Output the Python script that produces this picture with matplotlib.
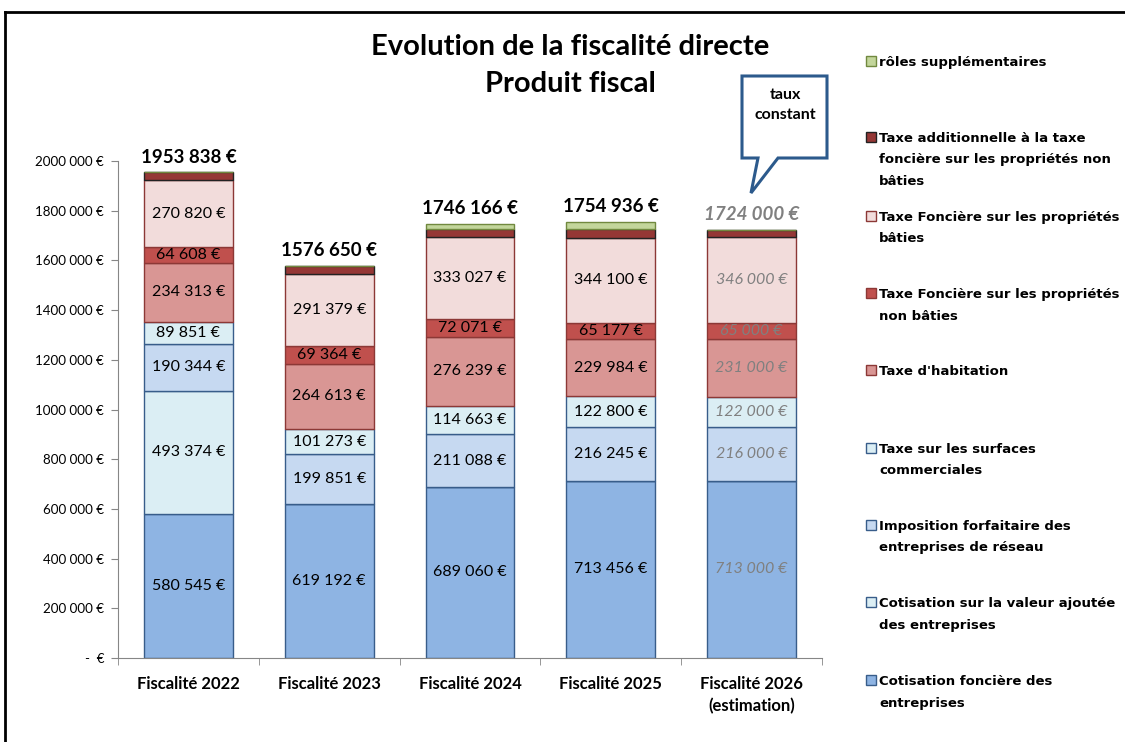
import matplotlib
matplotlib.use("Agg")
import matplotlib.pyplot as plt
from matplotlib.patches import Rectangle, Polygon
from matplotlib.lines import Line2D
from matplotlib import font_manager

categories = ["Fiscalité 2022", "Fiscalité 2023", "Fiscalité 2024", "Fiscalité 2025",
              "Fiscalité 2026\n(estimation)"]

cfe = [580545, 619192, 689060, 713456, 713000]
cvae = [493374, 0, 0, 0, 0]
ifer = [190344, 199851, 211088, 216245, 216000]
tascom = [89851, 101273, 114663, 122800, 122000]
th = [234313, 264613, 276239, 229984, 231000]
tfnb = [64608, 69364, 72071, 65177, 65000]
tfb = [270820, 291379, 333027, 344100, 346000]
ta_tfnb = [29983, 30978, 31000, 34000, 31000]
roles = [0, 0, 19018, 29174, 0]
totals = [1953838, 1576650, 1746166, 1754936, 1724000]

series_names = [
    "Cotisation foncière des\nentreprises",
    "Cotisation sur la valeur ajoutée\ndes entreprises",
    "Imposition forfaitaire des\nentreprises de réseau",
    "Taxe sur les surfaces\ncommerciales",
    "Taxe d'habitation",
    "Taxe Foncière sur les propriétés\nnon bâties",
    "Taxe Foncière sur les propriétés\nbâties",
    "Taxe additionnelle à la taxe\nfoncière sur les propriétés non\nbâties",
    "rôles supplémentaires",
]
yticks = [0, 200000, 400000, 600000, 800000, 1000000, 1200000, 1400000, 1600000, 1800000, 2000000]
ytick_labels = ["-  €", "200 000 €", "400 000 €", "600 000 €", "800 000 €", "1000 000 €",
                "1200 000 €", "1400 000 €", "1600 000 €", "1800 000 €", "2000 000 €"]

series = [cfe, cvae, ifer, tascom, th, tfnb, tfb, ta_tfnb, roles]
colors = ["#8EB4E3", "#DBEEF4", "#C6D9F1", "#DBEEF4", "#D99694", "#C0504D", "#F2DCDB", "#953735", "#C3D69B"]
edges = ["#385D8A", "#385D8A", "#385D8A", "#385D8A", "#8C3836", "#8C3836", "#8C3836", "#222222", "#71893F"]
labeled = [True, True, True, True, True, True, True, False, False]

avail = {f.name for f in font_manager.fontManager.ttflist}
main_font = "Lato" if "Lato" in avail else "DejaVu Sans"

W, H = 1125, 742
fig = plt.figure(figsize=(W / 100, H / 100), dpi=100)
ax = fig.add_axes([118 / W, 1 - 658 / H, (822 - 118) / W, (658 - 161) / H])

x = list(range(len(categories)))
bottom = [0] * len(categories)
for s, c, e, lab in zip(series, colors, edges, labeled):
    ax.bar(x, s, bottom=bottom, width=0.63, color=c, edgecolor=e, linewidth=1.0, zorder=2)
    if lab:
        for i, (b, v) in enumerate(zip(bottom, s)):
            if v <= 0:
                continue
            est = i == len(categories) - 1
            txt = f"{v:,}".replace(",", " ") + " €"
            ax.text(i, b + v / 2, txt, ha="center", va="center", fontsize=11.5,
                    family=main_font, color="#808080" if est else "black",
                    style="italic" if est else "normal", zorder=3)
    bottom = [b + v for b, v in zip(bottom, s)]

for i, t in enumerate(totals):
    est = i == len(categories) - 1
    s = f"{t:,}".replace(",", " ")
    s = s.replace(" ", "", 1) + " €"
    ax.text(i, t + 28000, s, ha="center", va="bottom", fontsize=13.5, fontweight="bold",
            family=main_font, color="#808080" if est else "black",
            style="italic" if est else "normal")

ax.set_xlim(-0.5, len(categories) - 0.5)
ax.set_ylim(0, 2000000)
ax.set_yticks(yticks)
ax.set_yticklabels(ytick_labels, fontsize=9.6, family=main_font)
ax.set_xticks(x)
ax.set_xticklabels(categories, fontsize=12, fontweight="bold", family=main_font, linespacing=1.45)
ax.tick_params(axis="x", length=0, pad=13)
ax.set_xticks([i - 0.5 for i in range(len(categories) + 1)], minor=True)
ax.tick_params(axis="x", which="minor", length=5, color="#868686", direction="out")
ax.tick_params(axis="y", length=5, color="#868686", direction="out", pad=5)
for sp in ["top", "right"]:
    ax.spines[sp].set_visible(False)
for sp in ["left", "bottom"]:
    ax.spines[sp].set_color("#868686")

# title
fig.text(570 / W, 1 - 47 / H, "Evolution de la fiscalité directe", ha="center", va="center",
         fontsize=21, fontweight="bold", family=main_font)
fig.text(570 / W, 1 - 84 / H, "Produit fiscal", ha="center", va="center",
         fontsize=21, fontweight="bold", family=main_font)

# legend (manual)
leg_y = [61, 137, 216, 293, 370, 448, 525, 602, 680]
order = list(range(len(series_names)))[::-1]
for yy, k in zip(leg_y, order):
    fig.patches.append(Rectangle((866 / W, 1 - (yy + 5) / H), 10 / W, 10 / H,
                                 transform=fig.transFigure, facecolor=colors[k],
                                 edgecolor=edges[k], linewidth=1))
    fig.text(879 / W, 1 - (yy - 5) / H, series_names[k], ha="left", va="top",
             fontsize=9.5, fontweight="bold", family="DejaVu Sans", linespacing=1.85)

# callout
poly = [(742, 76), (827, 76), (827, 158), (778, 158), (751, 193), (758, 158), (742, 158)]
fig.patches.append(Polygon([(px / W, 1 - py / H) for px, py in poly], closed=True,
                           transform=fig.transFigure, facecolor="white",
                           edgecolor="#2C5A8C", linewidth=2.2))
fig.text(785 / W, 1 - 105 / H, "taux\nconstant", ha="center", va="center", fontsize=11.5,
         fontweight="bold", family=main_font, linespacing=1.6)

# frame
fig.add_artist(Line2D([5 / W, 5 / W], [0, 1 - 12 / H], transform=fig.transFigure, color="black", lw=2))
fig.add_artist(Line2D([5 / W, 1], [1 - 12 / H, 1 - 12 / H], transform=fig.transFigure, color="black", lw=2))

fig.savefig("out.png", dpi=100)
